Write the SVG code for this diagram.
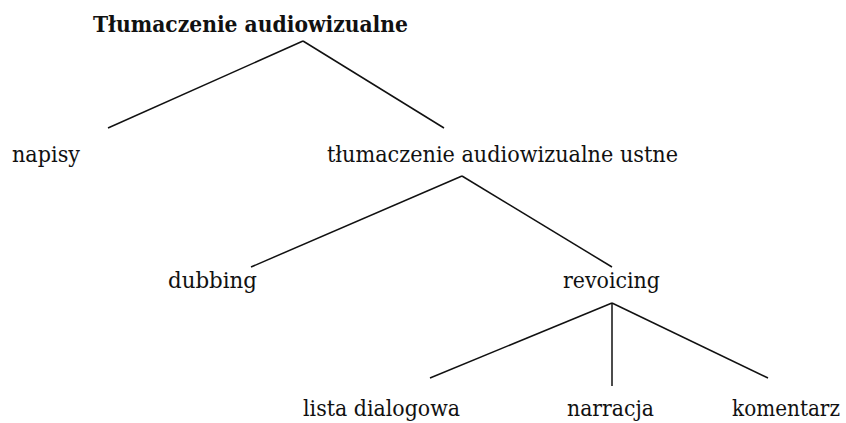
<svg xmlns="http://www.w3.org/2000/svg" width="846" height="423" viewBox="0 0 846 423">
<style>
text{font-family:"DejaVu Serif","Liberation Serif",serif;font-size:23px;fill:#111;text-anchor:middle}
.b{font-weight:bold}
.c line{stroke:#111;stroke-width:1.5;fill:none}
</style>
<rect width="846" height="423" fill="#fff"/>
<g class="c" id="connectors">
<line x1="303" y1="41" x2="108" y2="128"/>
<line x1="303" y1="41" x2="444" y2="128"/>
<line x1="462" y1="176" x2="251" y2="267"/>
<line x1="462" y1="176" x2="612" y2="267"/>
<line x1="612" y1="303" x2="430" y2="378"/>
<line x1="612" y1="303" x2="612" y2="386"/>
<line x1="612" y1="303" x2="768" y2="378"/>
</g>
<g id="root"><text class="b" x="250.5" y="32" textLength="315" lengthAdjust="spacingAndGlyphs">Tłumaczenie audiowizualne</text></g>
<g id="napisy"><text x="46" y="162" textLength="68" lengthAdjust="spacingAndGlyphs">napisy</text></g>
<g id="ustne"><text x="502.5" y="162" textLength="351" lengthAdjust="spacingAndGlyphs">tłumaczenie audiowizualne ustne</text></g>
<g id="dubbing"><text x="212.5" y="288" textLength="89" lengthAdjust="spacingAndGlyphs">dubbing</text></g>
<g id="revoicing"><text x="611.5" y="288" textLength="97" lengthAdjust="spacingAndGlyphs">revoicing</text></g>
<g id="lista"><text x="381.5" y="416" textLength="157" lengthAdjust="spacingAndGlyphs">lista dialogowa</text></g>
<g id="narracja"><text x="610.5" y="416" textLength="87" lengthAdjust="spacingAndGlyphs">narracja</text></g>
<g id="komentarz"><text transform="translate(786,416) scale(0.87,1)" x="0" y="0">komentarz</text></g>
</svg>
